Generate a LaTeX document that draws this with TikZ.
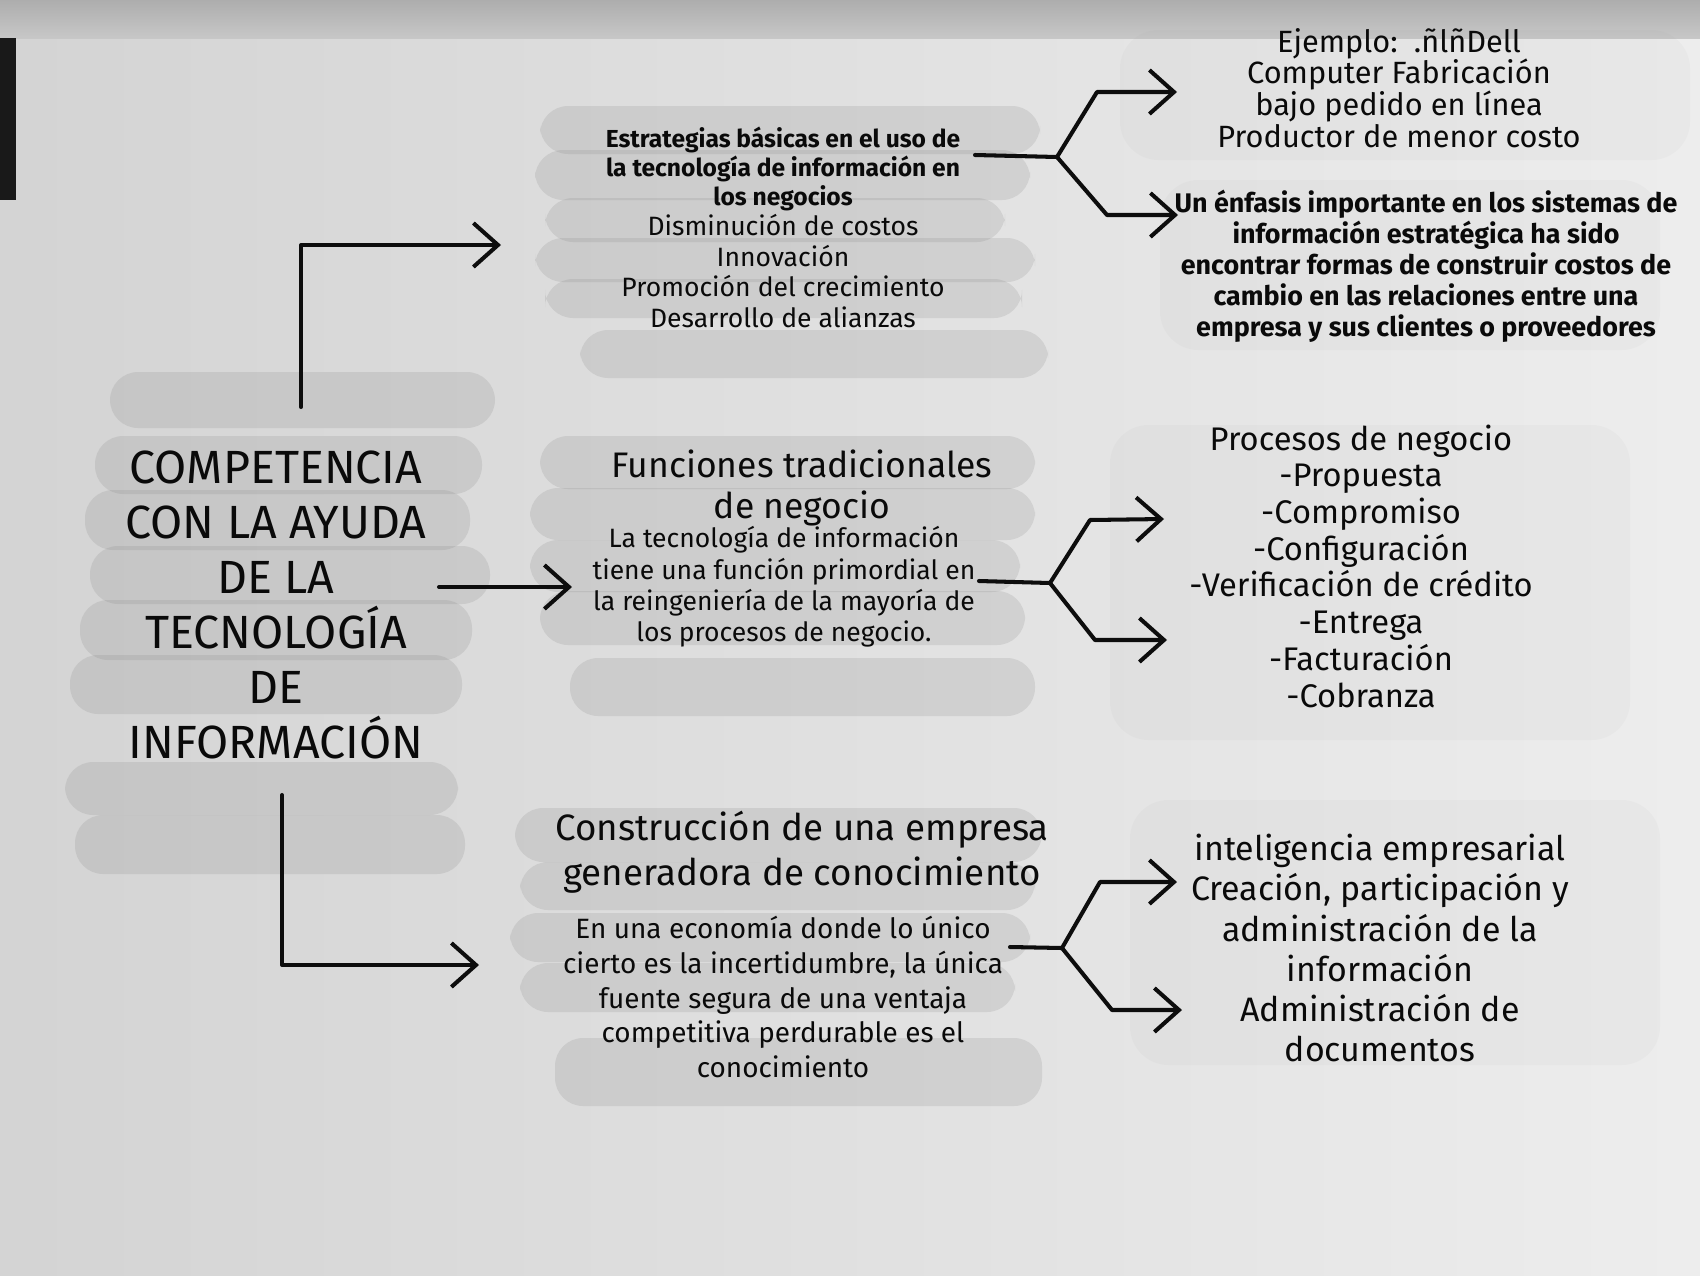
\documentclass[tikz,border=0pt]{standalone}
\usepackage{fontspec}
\setmainfont{Fira Sans}
\usetikzlibrary{arrows.meta}
\begin{document}
\begin{tikzpicture}[x=0.02cm,y=-0.02cm,
  conn/.style={line width=2.3pt, line cap=round, line join=round, draw=black!95},
  arr/.style={conn, -{Straight Barb[length=14pt,width=25pt]}},
  txt/.style={align=center, inner sep=0pt, text=black!96},
  hl/.style={fill=black!50, opacity=0.18, rounded corners=16pt},
  hll/.style={fill=black!40, opacity=0.06, rounded corners=22pt}]
% paper
\useasboundingbox (0,0) rectangle (1700,1275);
\shade[left color=black!17, right color=black!7] (0,0) rectangle (1700,1275);
\shade[top color=black!32, bottom color=black!22] (0,0) rectangle (1700,38);
\fill[black!90] (0,38) rectangle (16,200);
% highlight strokes: centre
\fill[hl] (110,372) rectangle (495,428);
\fill[hl] (95,436) rectangle (482,494);
\fill[hl] (85,490) rectangle (470,550);
\fill[hl] (90,546) rectangle (490,604);
\fill[hl] (80,600) rectangle (472,660);
\fill[hl] (70,655) rectangle (462,714);
\fill[hl] (65,762) rectangle (458,815);
\fill[hl] (75,815) rectangle (465,874);
% top middle
\fill[hl] (540,106) rectangle (1040,154);
\fill[hl] (535,150) rectangle (1030,200);
\fill[hl] (545,198) rectangle (1005,242);
\fill[hl] (535,238) rectangle (1035,282);
\fill[hl] (545,279) rectangle (1022,318);
\fill[hl] (580,330) rectangle (1048,378);
% middle
\fill[hl] (540,436) rectangle (1035,489);
\fill[hl] (530,488) rectangle (1035,540);
\fill[hl] (530,540) rectangle (1020,592);
\fill[hl] (540,591) rectangle (1025,645);
\fill[hl] (570,658) rectangle (1035,716);
% bottom
\fill[hl] (515,808) rectangle (1042,862);
\fill[hl] (520,862) rectangle (1035,910);
\fill[hl] (510,913) rectangle (1030,962);
\fill[hl] (520,963) rectangle (1015,1012);
\fill[hl] (555,1038) rectangle (1042,1106);
% right, faint
\fill[hll] (1120,30) rectangle (1690,160);
\fill[hll] (1160,180) rectangle (1660,350);
\fill[hll] (1110,425) rectangle (1630,740);
\fill[hll] (1130,800) rectangle (1660,1065);

% texts
\node[txt, font=\fontsize{26.5pt}{31.3pt}\selectfont] (comp) at (276,605)
  {COMPETENCIA\\CON LA AYUDA\\DE LA\\TECNOLOGÍA\\DE\\INFORMACIÓN};
\node[txt, font=\fontsize{14pt}{16.3pt}\selectfont\bfseries] (strat) at (783,169)
  {Estrategias básicas en el uso de\\la tecnología de información en\\los negocios};
\node[txt, font=\fontsize{15.1pt}{17.3pt}\selectfont] (strati) at (783,271)
  {Disminución de costos\\Innovación\\Promoción del crecimiento\\Desarrollo de alianzas};
\node[txt, font=\fontsize{17.5pt}{18pt}\selectfont] (ejem) at (1399,88)
  {Ejemplo:\ \ .ñlñDell\\Computer Fabricación\\bajo pedido en línea\\Productor de menor costo};
\node[txt, font=\fontsize{15.3pt}{17.6pt}\selectfont\bfseries] (enf) at (1426,266)
  {Un énfasis importante en los sistemas de\\información estratégica ha sido\\encontrar formas de construir costos de\\cambio en las relaciones entre una\\empresa y sus clientes o proveedores};
\node[txt, font=\fontsize{20.2pt}{23.3pt}\selectfont] (func) at (802,488)
  {Funciones tradicionales\\de negocio};
\node[txt, font=\fontsize{15.1pt}{17.8pt}\selectfont] (funcb) at (784,587)
  {La tecnología de información\\tiene una función primordial en\\la reingeniería de la mayoría de\\los procesos de negocio.};
\node[txt, font=\fontsize{18.6pt}{20.9pt}\selectfont] (proc) at (1361,566)
  {Procesos de negocio\\-Propuesta\\-Compromiso\\-Configuración\\-Verificación de crédito\\-Entrega\\-Facturación\\-Cobranza};
\node[txt, font=\fontsize{20.9pt}{25.6pt}\selectfont] (cons) at (802,852)
  {Construcción de una empresa\\generadora de conocimiento};
\node[txt, font=\fontsize{15.9pt}{19.7pt}\selectfont] (consb) at (783,997)
  {En una economía donde lo único\\cierto es la incertidumbre, la única\\fuente segura de una ventaja\\competitiva perdurable es el\\conocimiento};
\node[txt, font=\fontsize{19.3pt}{22.8pt}\selectfont] (intel) at (1380,948)
  {inteligencia empresarial\\Creación, participación y\\administración de la\\información\\Administración de\\documentos};

% connector points
\coordinate (t0) at (301,407);
\coordinate (t1) at (501,245);
\coordinate (m0) at (439,587);
\coordinate (m1) at (572,587);
\coordinate (b0) at (282,795);
\coordinate (b1) at (479,965);
% left connectors
\draw[arr] (t0) |- (t1);
\draw[arr] (m0) -- (m1);
\draw[arr] (b0) |- (b1);
% fork top
\coordinate (f1s) at (975,155);
\coordinate (f1) at (1057,157);
\coordinate (f1u) at (1097,92);
\coordinate (f1ue) at (1177,92);
\coordinate (f1d) at (1107,215);
\coordinate (f1de) at (1178,215);
\draw[conn] (f1s) -- (f1);
\draw[arr] (f1) -- (f1u) -- (f1ue);
\draw[arr] (f1) -- (f1d) -- (f1de);
% fork middle
\coordinate (f2s) at (979,581);
\coordinate (f2) at (1050,583);
\coordinate (f2u) at (1090,520);
\coordinate (f2ue) at (1164,519);
\coordinate (f2d) at (1095,640);
\coordinate (f2de) at (1167,640);
\draw[conn] (f2s) -- (f2);
\draw[arr] (f2) -- (f2u) -- (f2ue);
\draw[arr] (f2) -- (f2d) -- (f2de);
% fork bottom
\coordinate (f3s) at (1010,947);
\coordinate (f3) at (1062,948);
\coordinate (f3u) at (1100,882);
\coordinate (f3ue) at (1177,882);
\coordinate (f3d) at (1112,1010);
\coordinate (f3de) at (1182,1010);
\draw[conn] (f3s) -- (f3);
\draw[arr] (f3) -- (f3u) -- (f3ue);
\draw[arr] (f3) -- (f3d) -- (f3de);
\end{tikzpicture}
\end{document}
